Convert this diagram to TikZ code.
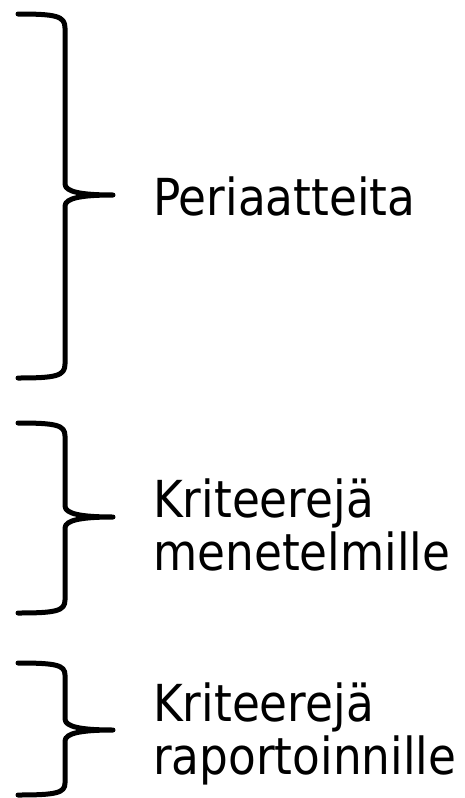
\documentclass[tikz,border=0pt]{standalone}
\usepackage{fontspec}
\setmainfont{DejaVu Sans}[FakeStretch=0.89]
\usetikzlibrary{positioning}

\begin{document}
\begin{tikzpicture}[
    x=1pt, y=-1pt,
    brace/.style={
		line width=5pt,
		line cap=round,
		line join=round
	},
	label/.style={
		anchor=base west,
		align=left,
		inner sep=0pt,
		font=\fontsize{51}{53}\selectfont
	}
  ]
  \useasboundingbox (0,0) rectangle (464,798);

    % Braces
  \draw [brace] (18,14) .. controls (56,14) and (65,16) .. (65,28)
    -- (65,184) .. controls (65,192) and (82,195) .. (113,195)
    .. controls (82,195) and (65,198) .. (65,206)
    -- (65,364) .. controls (65,376) and (56,378) .. (18,378);

  \draw [brace] (18,423) .. controls (56,423) and (65,425) .. (65,436)
    -- (65,506) .. controls (65,514) and (82,517) .. (113,517)
    .. controls (82,517) and (65,520) .. (65,528)
    -- (65,600) .. controls (65,611) and (56,613) .. (18,613);

  \draw [brace] (18,663) .. controls (56,663) and (65,665) .. (65,675)
    -- (65,719) .. controls (65,727) and (82,730) .. (113,730)
    .. controls (82,730) and (65,733) .. (65,741)
    -- (65,783) .. controls (65,793) and (56,795) .. (18,795);

    % Labels (base = last line)
  \node [label] (periaatteet) at (153,215) {Periaatteita};
  \node [label] (menetelmat) at (153,570) {Kriteerejä\\menetelmille};
  \node [label] (raportointi) at (153,774) {Kriteerejä\\raportoinnille};

\end{tikzpicture}
\end{document}
